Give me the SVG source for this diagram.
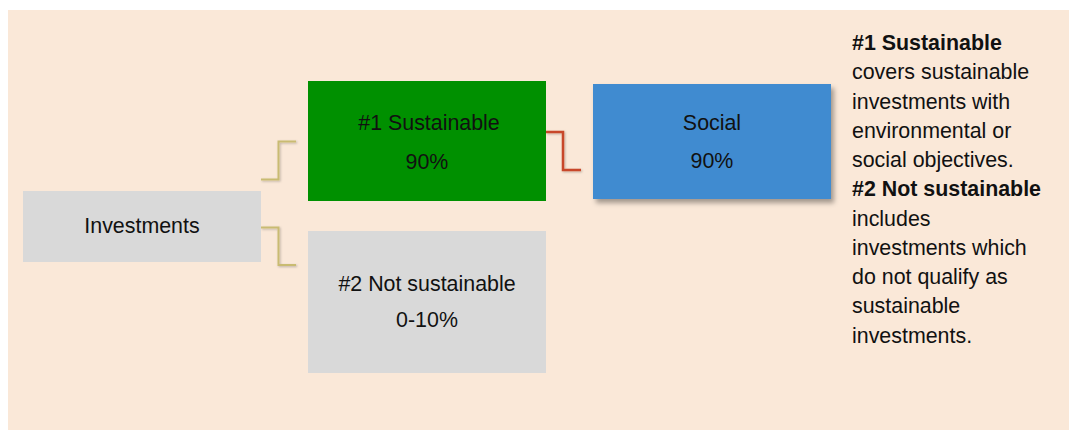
<svg xmlns="http://www.w3.org/2000/svg" width="1069" height="430" viewBox="0 0 1069 430">
  <defs>
    <filter id="shadow" x="-10%" y="-10%" width="130%" height="140%">
      <feDropShadow dx="3" dy="4" stdDeviation="2.5" flood-color="#000" flood-opacity="0.35"/>
    </filter>
    <filter id="lshadow" x="-20%" y="-20%" width="150%" height="150%">
      <feDropShadow dx="1" dy="1" stdDeviation="0.8" flood-color="#000" flood-opacity="0.25"/>
    </filter>
  </defs>
  <style>
    text { font-family: "Liberation Sans", Arial, sans-serif; font-size: 21.4px; fill: #111; }
    .c { text-anchor: middle; }
    .b { font-weight: bold; }
    .gold { fill: none; stroke: #C9BB72; stroke-width: 2; }
    .red { fill: none; stroke: #C8472B; stroke-width: 2.5; }
  </style>
  <rect x="8" y="10" width="1061" height="420" fill="#FAE8D8"/>

  <g id="connectors">
    <polyline class="gold" filter="url(#lshadow)" points="261,179.5 278.5,179.5 278.5,141.5 296,141.5"/>
    <polyline class="gold" filter="url(#lshadow)" points="261,227.5 278.5,227.5 278.5,265 296,265"/>
    <polyline class="red" filter="url(#lshadow)" points="546,132 563,132 563,170 581,170"/>
  </g>

  <g id="investments">
    <rect x="23" y="191" width="238" height="71" fill="#D9D9D9"/>
    <text class="c" x="142" y="233">Investments</text>
  </g>

  <g id="sustainable">
    <rect x="308" y="81" width="238" height="120" fill="#009000"/>
    <text class="c" x="429" y="130">#1 Sustainable</text>
    <text class="c" x="427" y="169">90%</text>
  </g>

  <g id="not-sustainable">
    <rect x="308" y="231" width="238" height="142" fill="#D9D9D9"/>
    <text class="c" x="427" y="291">#2 Not sustainable</text>
    <text class="c" x="427" y="327">0-10%</text>
  </g>

  <g id="social">
    <rect x="593" y="84" width="238" height="115" fill="#3F8BD0" filter="url(#shadow)"/>
    <text class="c" x="712" y="130">Social</text>
    <text class="c" x="712" y="168">90%</text>
  </g>

  <g id="legend">
    <text x="852" y="50" class="b">#1 Sustainable</text>
    <text x="852" y="79.3">covers sustainable</text>
    <text x="852" y="108.5">investments with</text>
    <text x="852" y="137.8">environmental or</text>
    <text x="852" y="167">social objectives.</text>
    <text x="852" y="196.3" class="b">#2 Not sustainable</text>
    <text x="852" y="225.5">includes</text>
    <text x="852" y="254.8">investments which</text>
    <text x="852" y="284">do not qualify as</text>
    <text x="852" y="313.3">sustainable</text>
    <text x="852" y="342.5">investments.</text>
  </g>
</svg>
